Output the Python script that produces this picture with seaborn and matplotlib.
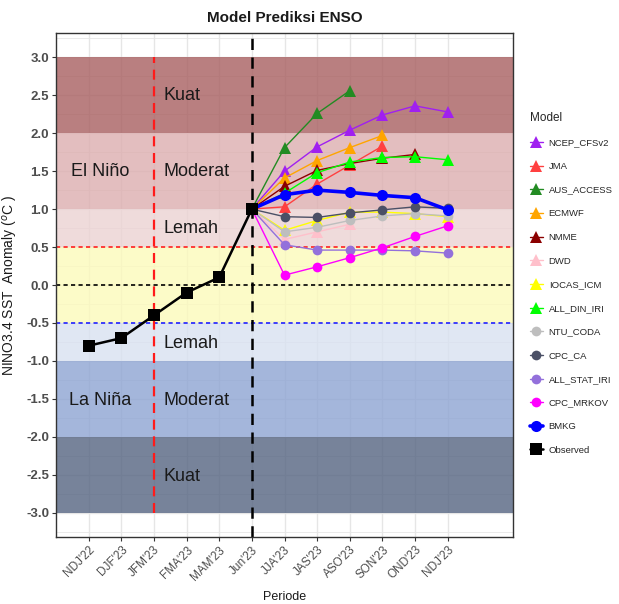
import matplotlib
matplotlib.use('Agg')
import matplotlib.pyplot as plt
import seaborn as sns
import pandas as pd
import numpy as np

# ---------------- data ----------------
periods = ["NDJ'22", "DJF'23", "JFM'23", "FMA'23", "MAM'23", "Jun'23",
           "JJA'23", "JAS'23", "ASO'23", "SON'23", "OND'23", "NDJ'23"]
observed = [-0.8, -0.7, -0.4, -0.1, 0.1, 1.0]
start_value = 1.0  # forecasts start from the Jun'23 observation

ncep_cfsv2 = [1.50, 1.82, 2.04, 2.24, 2.36, 2.28]
jma = [1.03, 1.33, 1.58, 1.83]
aus_access = [1.81, 2.26, 2.56]
ecmwf = [1.41, 1.64, 1.81, 1.97]
nmme = [1.30, 1.51, 1.60, 1.67, 1.72]
dwd = [0.60, 0.70, 0.80]
iocas_icm = [0.72, 0.85, 0.96, 0.96, 0.94, 0.90]
all_din_iri = [1.21, 1.48, 1.62, 1.68, 1.69, 1.65]
ntu_coda = [0.70, 0.76, 0.85, 0.91, 0.94, 0.91]
cpc_ca = [0.90, 0.89, 0.95, 0.99, 1.03, 1.01]
all_stat_iri = [0.53, 0.46, 0.46, 0.46, 0.45, 0.42]
cpc_mrkov = [0.13, 0.24, 0.36, 0.49, 0.64, 0.78]
bmkg = [1.19, 1.25, 1.22, 1.18, 1.15, 0.99]

model_names = ["NCEP_CFSv2", "JMA", "AUS_ACCESS", "ECMWF", "NMME", "DWD",
               "IOCAS_ICM", "ALL_DIN_IRI", "NTU_CODA", "CPC_CA",
               "ALL_STAT_IRI", "CPC_MRKOV", "BMKG"]
model_values = [ncep_cfsv2, jma, aus_access, ecmwf, nmme, dwd, iocas_icm,
                all_din_iri, ntu_coda, cpc_ca, all_stat_iri, cpc_mrkov, bmkg]
model_colors = ["#a020f0", "#ff4040", "#228b22", "#ffa500", "#8b0000", "#ffc0cb",
                "#ffff00", "#00ff00", "#bebebe", "#4b5066", "#9370db", "#ff00ff",
                "#0000ff"]
model_markers = ["^"] * 8 + ["o"] * 5

band_edges = [(2, 3), (1, 2), (0.5, 1), (-0.5, 0.5), (-1, -0.5), (-2, -1), (-3, -2)]
band_colors = ["#a85f60", "#ddaeaf", "#ecd2d3", "#fcfabb", "#d9e1f1", "#8ea4d3", "#556481"]

# ---------------- build long table ----------------
xpos = np.arange(1, len(periods) + 1)
rows = []
for i, v in enumerate(observed):
    rows.append(("Observed", xpos[i], v))
jun_idx = periods.index("Jun'23")
for name, vals in zip(model_names, model_values):
    rows.append((name, xpos[jun_idx], start_value))
    for k, v in enumerate(vals):
        rows.append((name, xpos[jun_idx + 1 + k], v))
df = pd.DataFrame(rows, columns=["Model", "x", "value"])

# ---------------- plot ----------------
sns.set_theme(style="white")
plt.rcParams['axes.unicode_minus'] = False
narrow = ['Liberation Sans Narrow', 'Liberation Sans', 'DejaVu Sans']
plt.rcParams['font.family'] = ['Liberation Sans', 'DejaVu Sans']

fig = plt.figure(figsize=(6.19, 6.04), dpi=100)
ax = fig.add_axes([56 / 619, 1 - 537 / 604, (513 - 56) / 619, (537 - 33) / 604])

ax.set_xlim(0, 14)
ax.set_ylim(-3.32, 3.32)

# grid
ax.set_axisbelow(True)
for y in np.arange(-3.25, 3.3, 0.25):
    major = abs(y * 2 - round(y * 2)) < 1e-6
    ax.axhline(y, color="#e6e6e6", lw=1.0 if major else 0.6, zorder=0.2)
for x in xpos:
    ax.axvline(x, color="#e6e6e6", lw=1.0, zorder=0.2)

# bands
for (lo, hi), c in zip(band_edges, band_colors):
    ax.axhspan(lo, hi, color=c, alpha=0.8, lw=0, zorder=0.5)

# reference lines
ax.axhline(0.5, color="#ff2020", lw=1.2, dashes=(2.5, 2), zorder=1)
ax.axhline(0.0, color="black", lw=1.2, dashes=(2.5, 2), zorder=1)
ax.axhline(-0.5, color="#2020ff", lw=1.2, dashes=(2.5, 2), zorder=1)
ax.vlines(3, -3, 3, color="#ff1a1a", lw=1.6, linestyles=(0, (4.5, 3)), zorder=1)
ax.axvline(6, color="black", lw=1.8, dashes=(4.5, 3), zorder=1)

# annotations
tkw = dict(fontsize=13, family=narrow, color="#1a1a1a", va="center", zorder=2)
ax.text(3.3, 2.5, "Kuat", ha="left", **tkw)
ax.text(3.3, 1.5, "Moderat", ha="left", **tkw)
ax.text(3.3, 0.74, "Lemah", ha="left", **tkw)
ax.text(3.3, -0.77, "Lemah", ha="left", **tkw)
ax.text(3.3, -1.52, "Moderat", ha="left", **tkw)
ax.text(3.3, -2.52, "Kuat", ha="left", **tkw)
ax.text(1.35, 1.5, "El Niño", ha="center", **tkw)
ax.text(1.35, -1.52, "La Niña", ha="center", **tkw)

# model lines
for name, c, m in zip(model_names, model_colors, model_markers):
    sub = df[df["Model"] == name]
    lw = 2.6 if name == "BMKG" else 1.0
    ms = 8 if (m == "^" or name == "BMKG") else 7
    sns.lineplot(data=sub, x="x", y="value", ax=ax, color=c, lw=lw,
                 marker=m, markersize=ms, markeredgewidth=0, label=name,
                 zorder=3, estimator=None, sort=False)
sub = df[df["Model"] == "Observed"]
sns.lineplot(data=sub, x="x", y="value", ax=ax, color="black", lw=1.8,
             marker="s", markersize=8, markeredgewidth=0, label="Observed",
             zorder=4, estimator=None, sort=False)

# axes styling
ax.set_xticks(xpos)
ax.set_xticklabels(periods, rotation=45, ha="right", rotation_mode="anchor",
                   fontsize=8.5, color="#4d4d4d", family=narrow)
yt = np.arange(-3.0, 3.01, 0.5)
ax.set_yticks(yt)
ax.set_yticklabels([f"{v:.1f}" for v in yt], fontsize=9.5, color="#4d4d4d",
                   fontweight="bold", family=narrow)
ax.tick_params(axis="both", length=3, width=0.8, color="#333333", pad=2,
               bottom=True, left=True)
for s in ax.spines.values():
    s.set_color("#333333")
    s.set_linewidth(1.0)
    s.set_zorder(5)

ax.set_xlabel("Periode", fontsize=9, color="#1a1a1a", labelpad=6)
ax.set_ylabel("NINO3.4 SST  Anomaly ($^{o}$C )", fontsize=10, color="#1a1a1a", labelpad=4)
ax.set_title("Model Prediksi ENSO", fontsize=11, fontweight="bold",
             family=narrow, color="#1a1a1a", pad=8)

# legend
handles, labels = ax.get_legend_handles_labels()
ax.legend_.remove()
leg = fig.legend(handles, labels, title="Model", loc="upper left",
                 bbox_to_anchor=(526 / 619, 1 - 108 / 604), frameon=False,
                 fontsize=6.8, title_fontsize=8.5, labelspacing=1.55,
                 handlelength=1.4, handletextpad=0.6, borderaxespad=0)
leg._legend_box.align = "left"
for t in leg.get_texts():
    t.set_family(narrow)
leg.get_title().set_family(narrow)

fig.savefig("out.png", dpi=100)
